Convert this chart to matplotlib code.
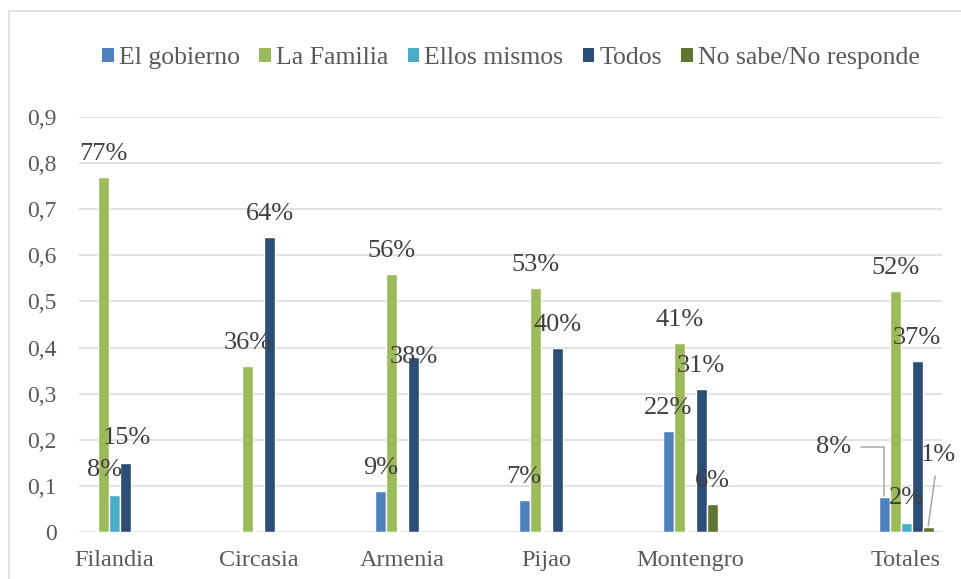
import matplotlib
matplotlib.use("Agg")
import matplotlib.pyplot as plt
from matplotlib.patches import Rectangle
import numpy as np

plt.rcParams['font.family'] = ['Liberation Serif', 'DejaVu Serif']

categories = ["Filandia", "Circasia", "Armenia", "Pijao", "Montengro", "Totales"]
series = ["El gobierno", "La Familia", "Ellos mismos", "Todos", "No sabe/No responde"]
el_gobierno = [None, None, 0.09, 0.07, 0.22, 0.075]
la_familia = [0.77, 0.36, 0.56, 0.53, 0.41, 0.523]
ellos_mismos = [0.08, None, None, None, None, 0.02]
todos = [0.15, 0.64, 0.38, 0.40, 0.31, 0.37]
no_sabe = [None, None, None, None, 0.06, 0.01]
yticks = [0, 0.1, 0.2, 0.3, 0.4, 0.5, 0.6, 0.7, 0.8, 0.9]
ytick_labels = ["0", "0,1", "0,2", "0,3", "0,4", "0,5", "0,6", "0,7", "0,8", "0,9"]

# layout / style
colors = ["#4F81BD", "#9BBB59", "#4BACC6", "#2C4D75", "#5F7530"]
xpos = [0, 1, 2, 3, 4, 5.5]
bar_w = 0.0764
PX = 0.72  # points per pixel at dpi 100
# label offsets in pixels (dx, dy up) relative to bar top centre, default (0, 23)
label_off = {
    (0, 2): (-10, 25), (0, 3): (1, 25),
    (2, 3): (0, 0),
    (5, 0): (-50, 50), (5, 2): (0, 25), (5, 4): (10, 72),
}
leader = {(5, 0): "angle,angleA=0,angleB=90,rad=0", (5, 4): "arc3"}

W, H = 961, 579
fig = plt.figure(figsize=(W / 100, H / 100), dpi=100)
ax = fig.add_axes([79 / W, (H - 532) / H, (942 - 79) / W, (532 - 117) / H])

text_col = "#595959"
lab_col = "#404040"
grid_col = "#D9D9D9"
fs_y = 17
fs_x = 17.5
fs_lab = 19
fs_leg = 18.5

data = [el_gobierno, la_familia, ellos_mismos, todos, no_sabe]
handles = []
for si, (name, vals) in enumerate(zip(series, data)):
    xs, hs = [], []
    for ci, v in enumerate(vals):
        if v is None:
            continue
        xs.append(xpos[ci] + (si - 2) * bar_w)
        hs.append(v)
    b = ax.bar(xs, hs, width=bar_w, color=colors[si], edgecolor="white",
               linewidth=1.0, zorder=3, label=name)
    handles.append(b)
    for ci, v in enumerate(vals):
        if v is None:
            continue
        x = xpos[ci] + (si - 2) * bar_w
        dx, dy = label_off.get((ci, si), (0, 23))
        kw = {}
        if (ci, si) in leader:
            kw["arrowprops"] = dict(arrowstyle="-", color="#A6A6A6", lw=1.1,
                                    connectionstyle=leader[(ci, si)],
                                    shrinkA=5, shrinkB=1)
        ax.annotate(f"{round(v * 100):d}%", xy=(x, v), xytext=(dx * PX, dy * PX),
                    textcoords="offset points", ha="center", va="center",
                    fontsize=fs_lab, color=lab_col, zorder=5, **kw)

ax.set_ylim(0, 0.9)
ax.set_xlim(-0.247, 5.75)
ax.set_yticks(yticks)
ax.set_yticklabels(ytick_labels)
ax.set_xticks(xpos)
ax.set_xticklabels(categories)
ax.tick_params(axis="both", length=0, labelcolor=text_col)
ax.tick_params(axis="y", pad=16, labelsize=fs_y)
ax.tick_params(axis="x", pad=13, labelsize=fs_x)
ax.grid(axis="y", color=grid_col, lw=1.5 * PX, zorder=0)
for s in ax.spines.values():
    s.set_visible(False)
ax.set_facecolor("none")

handles_leg = [Rectangle((0, 0), 1, 1, facecolor=c, edgecolor="none") for c in colors]
leg = fig.legend(handles=handles_leg, labels=series, loc="center",
                 bbox_to_anchor=(511 / W, 1 - 58 / H), ncol=5, frameon=False,
                 fontsize=fs_leg, handlelength=0.45, handleheight=0.45,
                 handletextpad=0.2, columnspacing=0.75, labelcolor=text_col)

fig.patches.append(Rectangle((8.5 / W, -0.1), 1.2, 1.1 - 10.5 / H,
                             transform=fig.transFigure, fill=False,
                             edgecolor=grid_col, lw=1.5 * PX))

fig.savefig("out.png", dpi=100)
